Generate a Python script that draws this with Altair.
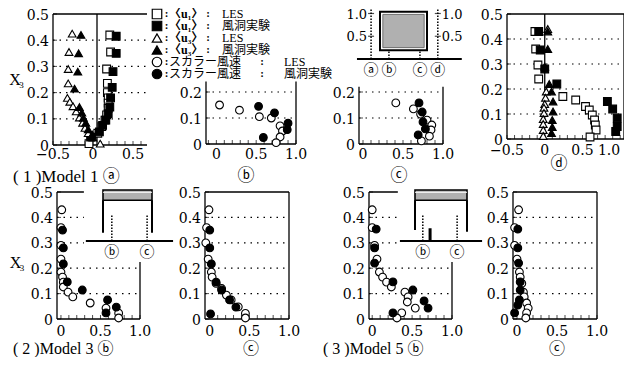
import math
import altair as alt
import pandas as pd

M = 8            # page margin
W, H = 616, 349  # plot area

# ---------------- series keys / styles ----------------
SERIES = ["u1_les", "u1_exp", "u3_les", "u3_exp", "s_les", "s_exp"]
SHAPES = ["square", "square", "triangle-up", "triangle-up", "circle", "circle"]
FILLS = ["white", "black", "white", "black", "white", "black"]
LEGEND_NAME = ["〈u₁〉", "〈u₁〉", "〈u₃〉", "〈u₃〉", "スカラー風速", "スカラー風速"]
LEGEND_KIND = ["LES", "風洞実験", "LES", "風洞実験", "LES", "風洞実験"]
CAPTIONS = ["( 1 )Model 1 ⓐ", "ⓑ", "ⓒ", "ⓓ", "( 2 )Model 3 ⓑ", "ⓒ", "( 3 )Model 5 ⓑ", "ⓒ"]
STATION_LABELS = ["ⓐ", "ⓑ", "ⓒ", "ⓓ"]
INSET_TICKS = [0.5, 1.0]

# ---------------- data ----------------
# (1) Model 1 ⓐ
A_U1_LES_X = [0.21, 0.22, 0.17, 0.18, 0.18, 0.19, 0.19, 0.19, 0.17, 0.15, 0.11, 0.06, -0.05]
A_U1_LES_Y = [0.42, 0.355, 0.29, 0.235, 0.20, 0.18, 0.16, 0.14, 0.115, 0.095, 0.07, 0.045, 0.005]
A_U1_EXP_X = [0.29, 0.29, 0.25, 0.24, 0.22, 0.21, 0.19, 0.16, 0.12, 0.08, -0.03]
A_U1_EXP_Y = [0.415, 0.35, 0.28, 0.22, 0.18, 0.145, 0.12, 0.095, 0.075, 0.05, 0.03]
A_U3_LES_X = [-0.26, -0.30, -0.31, -0.31, -0.32, -0.29, -0.25, -0.21, -0.17, -0.13, -0.10, -0.06, 0.09]
A_U3_LES_Y = [0.425, 0.355, 0.29, 0.235, 0.18, 0.165, 0.148, 0.128, 0.105, 0.085, 0.065, 0.045, 0.005]
A_U3_EXP_X = [-0.15, -0.18, -0.19, -0.23, -0.17, -0.14, -0.12, -0.09, -0.06, -0.01, 0.0]
A_U3_EXP_Y = [0.42, 0.35, 0.28, 0.215, 0.145, 0.124, 0.104, 0.085, 0.06, 0.04, 0.028]
# Model 1 ⓑ (scalar wind speed)
B_S_LES_X = [0.04, 0.29, 0.54, 0.69, 0.80, 0.83, 0.80, 0.75]
B_S_LES_Y = [0.15, 0.13, 0.105, 0.10, 0.07, 0.05, 0.027, 0.005]
B_S_EXP_X = [0.53, 0.73, 0.90, 0.89, 0.59]
B_S_EXP_Y = [0.145, 0.12, 0.08, 0.055, 0.025]
# Model 1 ⓒ
C_S_LES_X = [0.41, 0.63, 0.72, 0.80, 0.86, 0.85, 0.83, 0.73]
C_S_LES_Y = [0.158, 0.135, 0.115, 0.092, 0.073, 0.054, 0.03, 0.012]
C_S_EXP_X = [0.70, 0.74, 0.75, 0.78, 0.69]
C_S_EXP_Y = [0.158, 0.123, 0.085, 0.058, 0.035]
# Model 1 ⓓ
D_U1_LES_X = [-0.13, -0.12, -0.09, -0.08, 0.24, 0.41, 0.54, 0.59, 0.63, 0.66, 0.67, 0.68, 0.60]
D_U1_LES_Y = [0.43, 0.36, 0.296, 0.24, 0.17, 0.156, 0.13, 0.116, 0.096, 0.076, 0.056, 0.036, 0.008]
D_U1_EXP_X = [-0.08, -0.06, 0.0, 0.16, 0.83, 0.90, 0.96, 0.96, 0.94]
D_U1_EXP_Y = [0.43, 0.356, 0.28, 0.22, 0.15, 0.12, 0.084, 0.05, 0.03]
D_U3_LES_X = [0.04, 0.02, 0.01, 0.0, -0.01, -0.01, -0.02, -0.02, -0.02, -0.02]
D_U3_LES_Y = [0.44, 0.19, 0.165, 0.14, 0.125, 0.104, 0.08, 0.06, 0.036, 0.012]
D_U3_EXP_X = [0.04, 0.04, 0.0, 0.06, 0.09, 0.11, 0.11, 0.10, 0.10, 0.09]
D_U3_EXP_Y = [0.43, 0.36, 0.29, 0.22, 0.19, 0.15, 0.11, 0.076, 0.048, 0.024]
# (2) Model 3 ⓑ
M3B_S_LES_X = [0.01, 0.0, 0.0, 0.0, 0.0, 0.02, 0.03, 0.03, 0.09, 0.15, 0.37, 0.57, 0.73, 0.73]
M3B_S_LES_Y = [0.43, 0.36, 0.29, 0.236, 0.185, 0.165, 0.145, 0.126, 0.106, 0.087, 0.063, 0.043, 0.023, 0.004]
M3B_S_EXP_X = [0.02, 0.03, 0.03, 0.08, 0.27, 0.59, 0.70, 0.57]
M3B_S_EXP_Y = [0.35, 0.28, 0.217, 0.146, 0.114, 0.075, 0.047, 0.024]
# Model 3 ⓒ
M3C_S_LES_X = [-0.01, -0.04, -0.05, -0.02, 0.02, 0.03, 0.08, 0.15, 0.21, 0.27, 0.36, 0.45, 0.45]
M3C_S_LES_Y = [0.43, 0.36, 0.30, 0.236, 0.185, 0.165, 0.14, 0.12, 0.094, 0.075, 0.048, 0.022, 0.004]
M3C_S_EXP_X = [0.0, 0.0, 0.02, 0.08, 0.15, 0.25, 0.33, 0.01]
M3C_S_EXP_Y = [0.35, 0.28, 0.217, 0.145, 0.114, 0.075, 0.047, 0.02]
# (3) Model 5 ⓑ
M5B_S_LES_X = [0.0, 0.0, 0.03, 0.06, 0.09, 0.13, 0.18, 0.24, 0.41, 0.45, 0.44, 0.54, 0.37, 0.31]
M5B_S_LES_Y = [0.43, 0.36, 0.29, 0.236, 0.185, 0.165, 0.145, 0.126, 0.106, 0.087, 0.067, 0.043, 0.024, 0.004]
M5B_S_EXP_X = [0.05, 0.03, 0.03, 0.26, 0.51, 0.65, 0.70, 0.26]
M5B_S_EXP_Y = [0.354, 0.28, 0.22, 0.146, 0.114, 0.071, 0.043, 0.024]
# Model 5 ⓒ
M5C_S_LES_X = [0.02, -0.03, -0.03, 0.0, 0.03, 0.04, 0.06, 0.08, 0.09, 0.12, 0.14, 0.12, 0.11]
M5C_S_LES_Y = [0.43, 0.36, 0.29, 0.236, 0.185, 0.165, 0.14, 0.106, 0.087, 0.063, 0.043, 0.024, 0.004]
M5C_S_EXP_X = [0.01, 0.01, 0.02, 0.04, 0.04, 0.03, 0.01, -0.03]
M5C_S_EXP_Y = [0.354, 0.28, 0.22, 0.146, 0.114, 0.075, 0.055, 0.024]

# ---------------- helpers ----------------
NUM_FONT = "DejaVu Serif"
TXT_FONT = "Liberation Serif, DejaVu Sans, Noto Sans CJK JP"
LEG_FONT = "Liberation Serif, Noto Sans CJK JP"

shape_scale = alt.Scale(domain=SERIES, range=SHAPES)
fill_scale = alt.Scale(domain=SERIES, range=FILLS)


def P(v):
    return v - M


def tick_vals(lo, hi, step=0.1):
    a = math.ceil(lo / step - 1e-9)
    b = math.floor(hi / step + 1e-9)
    return [round(k * step, 2) for k in range(a, b + 1)]


def fmt(v):
    if abs(v) < 1e-9:
        return "0"
    return f"{v:.1f}".replace("-", "−")


def pts(*groups):
    rows = []
    for key, xs, ys in groups:
        rows += [{"s": key, "x": x, "y": y} for x, y in zip(xs, ys)]
    return pd.DataFrame(rows)


def seg_chart(rows, xs, ys, **mk):
    df = pd.DataFrame(rows, columns=["x", "x2", "y", "y2"])
    return alt.Chart(df).mark_rule(**mk).encode(
        x=alt.X("x:Q", scale=xs, axis=None), x2="x2:Q",
        y=alt.Y("y:Q", scale=ys, axis=None), y2="y2:Q")


def scaled_text(rows, xs, ys, size, font, align="center", baseline="middle", dx=0, dy=0):
    df = pd.DataFrame(rows, columns=["x", "y", "t"])
    return alt.Chart(df).mark_text(align=align, baseline=baseline, font=font, fontSize=size,
                                   color="black", dx=dx, dy=dy).encode(
        x=alt.X("x:Q", scale=xs, axis=None), y=alt.Y("y:Q", scale=ys, axis=None), text="t:N")


def panel(df, xdom, xpx, ydom, ypx, grid, sides, vline=None, xlab_dy=12):
    xs = alt.Scale(domain=xdom, range=[P(xpx[0]), P(xpx[1])], nice=False, zero=False)
    ys = alt.Scale(domain=ydom, range=[P(ypx[0]), P(ypx[1])], nice=False, zero=False)
    xt = tick_vals(*xdom)
    xlab = [v for v in xt if abs(v * 2 - round(v * 2)) < 1e-6]
    yt = tick_vals(*ydom)
    layers = [seg_chart([(xdom[0], xdom[1], g, g) for g in grid], xs, ys,
                        color="black", strokeWidth=1.2, strokeDash=[1.5, 5])]
    solid = [(xdom[0], xdom[0], ydom[0], ydom[1]), (xdom[0], xdom[1], ydom[0], ydom[0])]
    if "T" in sides:
        solid.append((xdom[0], xdom[1], ydom[1], ydom[1]))
    if "R" in sides:
        solid.append((xdom[1], xdom[1], ydom[0], ydom[1]))
    if vline is not None:
        solid.append((vline, vline, ydom[0], ydom[1]))
    layers.append(seg_chart(solid, xs, ys, color="black", strokeWidth=1.3))
    layers.append(alt.Chart(pd.DataFrame({"t": xt})).mark_tick(
        orient="vertical", size=4, thickness=1, color="black", yOffset=-2).encode(
        x=alt.X("t:Q", scale=xs, axis=None),
        y=alt.YDatum(ydom[0], scale=ys, axis=None, type="quantitative")))
    layers.append(alt.Chart(pd.DataFrame({"t": yt})).mark_tick(
        orient="horizontal", size=4, thickness=1, color="black", xOffset=2).encode(
        y=alt.Y("t:Q", scale=ys, axis=None),
        x=alt.XDatum(xdom[0], scale=xs, axis=None, type="quantitative")))
    # x tick labels; a label that would run past the canvas edge is right-aligned to it
    edge = P(xpx[1]) + 12 > W
    inner = xlab[:-1] if edge else xlab
    layers.append(scaled_text([(v, ydom[0], fmt(v)) for v in inner], xs, ys, 14, NUM_FONT,
                              dy=xlab_dy))
    if edge:
        layers.append(scaled_text([(xlab[-1], ydom[0], fmt(xlab[-1]))], xs, ys, 14, NUM_FONT,
                                  align="right", dx=W - P(xpx[1]), dy=xlab_dy))
    layers.append(scaled_text([(xdom[0], v, fmt(v)) for v in yt], xs, ys, 14, NUM_FONT,
                              align="right", dx=-4, dy=1.5))
    layers.append(alt.Chart(df).mark_point(
        filled=True, size=60, stroke="black", strokeWidth=1.1, opacity=1).encode(
        x=alt.X("x:Q", scale=xs, axis=None),
        y=alt.Y("y:Q", scale=ys, axis=None),
        shape=alt.Shape("s:N", scale=shape_scale, legend=None),
        fill=alt.Fill("s:N", scale=fill_scale, legend=None)))
    return alt.layer(*layers)


def text(txt, X, Y, size, font, align="left", baseline="middle"):
    return alt.Chart(pd.DataFrame({"t": [txt]})).mark_text(
        align=align, baseline=baseline, font=font, fontSize=size, color="black").encode(
        x=alt.value(P(X)), y=alt.value(P(Y)), text="t:N")


# ---------------- panels ----------------
panels = [
    panel(pts(("u1_les", A_U1_LES_X, A_U1_LES_Y), ("u1_exp", A_U1_EXP_X, A_U1_EXP_Y),
              ("u3_les", A_U3_LES_X, A_U3_LES_Y), ("u3_exp", A_U3_EXP_X, A_U3_EXP_Y)),
          [-0.5, 0.675], [53, 147], [0, 0.5], [145, 14], [0.1, 0.2, 0.3, 0.4], "T",
          vline=0.05, xlab_dy=10),
    panel(pts(("s_les", B_S_LES_X, B_S_LES_Y), ("s_exp", B_S_EXP_X, B_S_EXP_Y)),
          [-0.13, 1.0], [206, 296], [0, 0.24], [144, 81.6], [0.1, 0.2], "R", xlab_dy=11),
    panel(pts(("s_les", C_S_LES_X, C_S_LES_Y), ("s_exp", C_S_EXP_X, C_S_EXP_Y)),
          [-0.05, 1.0], [359, 443], [0, 0.22], [144, 86.8], [0.1, 0.2], "R", xlab_dy=11),
    panel(pts(("u1_les", D_U1_LES_X, D_U1_LES_Y), ("u1_exp", D_U1_EXP_X, D_U1_EXP_Y),
              ("u3_les", D_U3_LES_X, D_U3_LES_Y), ("u3_exp", D_U3_EXP_X, D_U3_EXP_Y)),
          [-0.5, 1.05], [507, 624], [0, 0.5], [139, 14], [0.1, 0.2, 0.3, 0.4], "TR",
          vline=0.0, xlab_dy=12),
    panel(pts(("s_les", M3B_S_LES_X, M3B_S_LES_Y), ("s_exp", M3B_S_EXP_X, M3B_S_EXP_Y)),
          [-0.05, 1.0], [57, 140], [0, 0.5], [319, 192], [0.1, 0.2, 0.3, 0.4], "TR", xlab_dy=13),
    panel(pts(("s_les", M3C_S_LES_X, M3C_S_LES_Y), ("s_exp", M3C_S_EXP_X, M3C_S_EXP_Y)),
          [-0.06, 1.0], [205, 289], [0, 0.5], [319, 192], [0.1, 0.2, 0.3, 0.4], "TR", xlab_dy=13),
    panel(pts(("s_les", M5B_S_LES_X, M5B_S_LES_Y), ("s_exp", M5B_S_EXP_X, M5B_S_EXP_Y)),
          [-0.04, 1.0], [369, 452], [0, 0.5], [319, 192], [0.1, 0.2, 0.3, 0.4], "TR", xlab_dy=13),
    panel(pts(("s_les", M5C_S_LES_X, M5C_S_LES_Y), ("s_exp", M5C_S_EXP_X, M5C_S_EXP_Y)),
          [-0.05, 1.0], [513, 597], [0, 0.5], [319, 192], [0.1, 0.2, 0.3, 0.4], "TR", xlab_dy=13),
]

# ---------------- legend ----------------
lys = alt.Scale(domain=[0, 5], range=[P(14), P(74)], nice=False, zero=False)
leg_df = pd.DataFrame({"row": list(range(6)), "s": SERIES, "name": LEGEND_NAME,
                       "kind": LEGEND_KIND, "colon": [":"] * 6,
                       "scalar": [n.startswith("ス") for n in LEGEND_NAME]})
ly = alt.Y("row:Q", scale=lys, axis=None)


def leg_text(field, X, scalar=None, align="left", size=12, weight="normal"):
    c = alt.Chart(leg_df)
    if scalar is not None:
        c = c.transform_filter(alt.datum.scalar == scalar)
    return c.mark_text(align=align, baseline="middle", font=LEG_FONT, fontSize=size,
                       fontWeight=weight, color="black").encode(
        x=alt.value(P(X)), y=ly, text=f"{field}:N")


legend = alt.layer(
    alt.Chart(leg_df).mark_point(filled=True, size=90, stroke="black", strokeWidth=1.2, opacity=1).encode(
        x=alt.value(P(157)), y=ly,
        shape=alt.Shape("s:N", scale=shape_scale, legend=None),
        fill=alt.Fill("s:N", scale=fill_scale, legend=None)),
    leg_text("colon", 166.5, align="center", size=11, weight="bold"),
    leg_text("name", 169, scalar=False, size=12, weight="bold"),
    leg_text("name", 169, scalar=True, size=12),
    leg_text("colon", 208, scalar=False, align="center", size=11, weight="bold"),
    leg_text("colon", 262, scalar=True, align="center", size=11, weight="bold"),
    leg_text("kind", 222, scalar=False),
    leg_text("kind", 284, scalar=True),
)

# ---------------- top inset (Model 1 section) ----------------
tx = alt.Scale(domain=[0, 1], range=[P(380), P(427)], nice=False, zero=False)
ty = alt.Scale(domain=[0, 1], range=[P(59), P(13.5)], nice=False, zero=False)
ST_TOP = [-0.19, 0.19, 0.85, 1.23]   # ⓐ ⓑ ⓒ ⓓ stations (building widths)


def trect(x, x2, y, y2, **mk):
    return alt.Chart(pd.DataFrame({"x": [x], "x2": [x2], "y": [y], "y2": [y2]})).mark_rect(
        **mk).encode(x=alt.X("x:Q", scale=tx, axis=None), x2="x2:Q",
                     y=alt.Y("y:Q", scale=ty, axis=None), y2="y2:Q")


top_inset = alt.layer(
    trect(0, 1, 0.19, 1.04, fill="white", stroke="black", strokeWidth=2),
    trect(0.06, 0.94, 0.25, 0.98, fill="#b0b0b0", stroke="#555555", strokeWidth=0.8),
    seg_chart([(ST_TOP[0], ST_TOP[0], 0, 1.15), (ST_TOP[3], ST_TOP[3], 0, 1.15),
               (ST_TOP[1], ST_TOP[1], 0, 0.19), (ST_TOP[2], ST_TOP[2], 0, 0.19)],
              tx, ty, color="black", strokeWidth=1.5, strokeDash=[1.5, 1.5]),
    seg_chart([(-0.49, 1.74, 0, 0)], tx, ty, color="black", strokeWidth=2.2),
    alt.Chart(pd.DataFrame({"x": [ST_TOP[0]] * 2 + [ST_TOP[3]] * 2, "y": INSET_TICKS * 2})).mark_tick(
        orient="horizontal", size=6, thickness=1.2, color="black").encode(
        x=alt.X("x:Q", scale=tx, axis=None), y=alt.Y("y:Q", scale=ty, axis=None)),
    scaled_text([(ST_TOP[0], v, f"{v:.1f}") for v in INSET_TICKS], tx, ty, 13, NUM_FONT,
                align="right", dx=-4, dy=1),
    scaled_text([(ST_TOP[3], v, f"{v:.1f}") for v in INSET_TICKS], tx, ty, 13, NUM_FONT,
                align="left", dx=4, dy=1),
    scaled_text([(s, 0, l) for s, l in zip(ST_TOP, STATION_LABELS)], tx, ty, 15, TXT_FONT, dy=11),
)


# ---------------- bottom insets (Model 3 / Model 5 canopies) ----------------
def canopy(px0, px1, bg, posts, stations, ground, block=None):
    cx = alt.Scale(domain=[0, 1], range=[P(px0), P(px1)], nice=False, zero=False)
    cy = alt.Scale(domain=[0, 1], range=[P(241), P(190)], nice=False, zero=False)

    def rect(x, x2, y, y2, **mk):
        return alt.Chart(pd.DataFrame({"x": [x], "x2": [x2], "y": [y], "y2": [y2]})).mark_rect(
            **mk).encode(x=alt.X("x:Q", scale=cx, axis=None), x2="x2:Q",
                         y=alt.Y("y:Q", scale=cy, axis=None), y2="y2:Q")

    layers = [
        rect(bg[0], bg[1], bg[2], bg[3], fill="white", strokeWidth=0),
        rect(0, 1, 0.8, 1.0, fill="#b0b0b0", stroke="black", strokeWidth=1.6),
        seg_chart([(0, 1, 0.955, 0.955)], cx, cy, color="white", strokeWidth=1),
        seg_chart([(0, 0, posts[0], 0.8), (1, 1, posts[1], 0.8)], cx, cy,
                  color="black", strokeWidth=2),
        seg_chart([(s, s, 0, 0.51) for s in stations], cx, cy,
                  color="black", strokeWidth=1.5, strokeDash=[1.5, 1.5]),
        seg_chart([(ground[0], ground[1], 0, 0)], cx, cy, color="black", strokeWidth=2.2),
    ]
    if block is not None:
        layers.append(seg_chart([(block[0], block[0], 0, block[1])], cx, cy,
                                color="black", strokeWidth=3))
    layers.append(scaled_text([(s, 0, l) for s, l in zip(stations, STATION_LABELS[1:3])],
                              cx, cy, 15, TXT_FONT, dy=11))
    return alt.layer(*layers)


inset3 = canopy(103, 152, [-0.39, 1.47, -0.41, 1.08], [0.16, 0.16], [0.18, 0.9], [-0.35, 1.43])
inset5 = canopy(415, 467, [-0.33, 1.33, -0.41, 1.08], [0.216, 0.18], [0.15, 0.81], [-0.29, 1.29],
                block=[0.29, 0.25])

# ---------------- captions & axis titles ----------------
texts = [
    text(CAPTIONS[0], 13, 177, 17, TXT_FONT),
    text(CAPTIONS[1], 246, 176, 17, TXT_FONT, align="center"),
    text(CAPTIONS[2], 399, 176, 17, TXT_FONT, align="center"),
    text(CAPTIONS[3], 559, 164, 17, TXT_FONT, align="center"),
    text(CAPTIONS[4], 13, 349, 16, TXT_FONT),
    text(CAPTIONS[5], 251, 349, 16, TXT_FONT, align="center"),
    text(CAPTIONS[6], 323, 349, 16, TXT_FONT),
    text(CAPTIONS[7], 557, 349, 16, TXT_FONT, align="center"),
    text("X", 15, 80, 16, "Liberation Serif", align="center"),
    text("3", 21.5, 85, 9, "Liberation Serif", align="center"),
    text("X", 15.5, 263, 16, "Liberation Serif", align="center"),
    text("3", 22, 268, 9, "Liberation Serif", align="center"),
]

chart = alt.layer(*panels, legend, top_inset, inset3, inset5, *texts).resolve_scale(
    x="independent", y="independent"
).properties(
    width=W, height=H, autosize=alt.AutoSizeParams(type="none"), padding=0
).configure_view(stroke=None)

chart.save("out.html", embed_options={"renderer": "svg", "actions": False})
